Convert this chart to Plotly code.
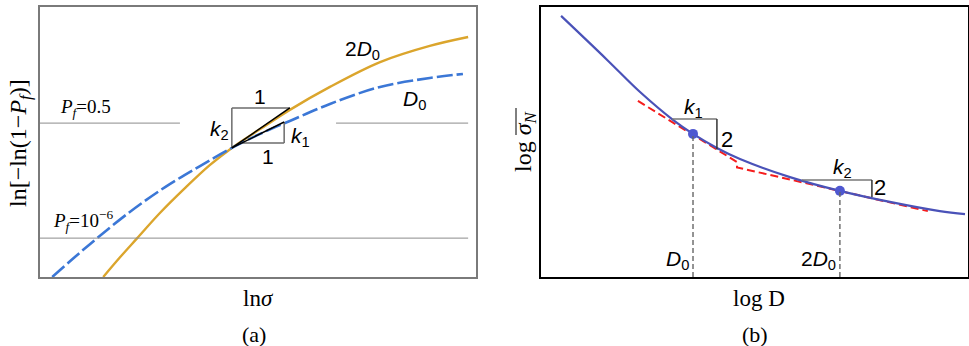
import plotly.graph_objects as go

W, H = 969, 346

# ---------------- panel (a): ln[-ln(1-Pf)] versus ln(sigma) ----------------
a_d0_x = [0.28, 0.80, 1.31, 2.06, 2.87, 3.67, 4.40, 5.05, 5.73, 6.65, 7.80, 8.94, 9.70]
a_d0_y = [0.00, 0.74, 1.44, 2.41, 3.33, 4.11, 4.78, 5.30, 5.78, 6.41, 7.04, 7.37, 7.52]
a_2d0_x = [1.45, 1.84, 2.23, 2.75, 3.33, 3.90, 4.40, 5.05, 5.73, 6.65, 7.80, 8.94, 9.82]
a_2d0_y = [0.00, 0.74, 1.44, 2.37, 3.30, 4.15, 4.78, 5.48, 6.19, 7.04, 7.96, 8.56, 8.89]

pf_half_y = 5.70          # Pf = 0.5
pf_micro_y = 1.44         # Pf = 1e-6
pf_half_x = [[0.0, 3.21], [6.79, 9.82]]
pf_micro_x = [0.0, 9.82]

# common tangent point of both curves and the two slope triangles
tan_pt = (4.40, 4.78)
k2_corner = (4.40, 6.26)      # top-left corner of the k2 triangle
k2_end = (5.73, 6.26)         # end of the 2D0 tangent
k1_base_y = 4.96
k1_base_x0 = 4.625
k1_end = (5.60, 5.74)         # end of the D0 tangent

# ---------------- panel (b): log sigma_N versus log D ----------------
b_curve_x = [0.47, 1.55, 2.32, 3.09, 3.56, 4.12, 4.66, 5.83, 7.00, 8.17, 9.34, 9.93]
b_curve_y = [9.67, 8.04, 6.85, 5.82, 5.30, 4.78, 4.37, 3.70, 3.19, 2.78, 2.44, 2.33]
b_tangent_x = [2.27, 4.59, 4.59, 9.06]
b_tangent_y = [6.52, 4.26, 4.06, 2.44]
b_pts_x = [3.56, 7.00]        # D0, 2D0
b_pts_y = [5.30, 3.19]
b_pt_labels = ["<i>D</i><sub>0</sub>", "2<i>D</i><sub>0</sub>"]
b_tri1 = dict(x0=3.07, x1=4.12, y_top=5.85, y_bot=4.72)
b_tri2 = dict(x0=6.11, x1=7.75, y_top=3.59, y_bot=2.96)

BLUE_A = "#3b77d6"
GOLD_A = "#dba52c"
BLUE_B = "#4a52b8"
RED_B = "#f51d1d"
GREY_FRAME = "#7a7a7a"
GREY_LINE = "#8c8c8c"
GREY_BOX = "#6b6b6b"

SERIF = "Liberation Serif"
SANS = "Liberation Sans"


def px(x):
    return x / W


def py(y):
    return 1 - y / H


fig = go.Figure()

# panel (a) curves
fig.add_trace(go.Scatter(x=a_2d0_x, y=a_2d0_y, mode="lines", line_shape="spline",
                         line=dict(color=GOLD_A, width=2.4), xaxis="x", yaxis="y"))
fig.add_trace(go.Scatter(x=a_d0_x, y=a_d0_y, mode="lines", line_shape="spline",
                         line=dict(color=BLUE_A, width=2.6, dash="16px,4px"),
                         xaxis="x", yaxis="y"))

# panel (b) curves
fig.add_trace(go.Scatter(x=b_tangent_x, y=b_tangent_y, mode="lines",
                         line=dict(color=RED_B, width=2, dash="8px,4px"),
                         xaxis="x2", yaxis="y2"))
fig.add_trace(go.Scatter(x=b_curve_x, y=b_curve_y, mode="lines", line_shape="spline",
                         line=dict(color=BLUE_B, width=2.2), xaxis="x2", yaxis="y2"))
fig.add_trace(go.Scatter(x=b_pts_x, y=b_pts_y, mode="markers",
                         marker=dict(color="#4f58d0", size=10), xaxis="x2", yaxis="y2"))

shapes = []


def seg(xref, yref, x0, y0, x1, y1, color, width, dash=None):
    d = dict(type="line", xref=xref, yref=yref, x0=x0, y0=y0, x1=x1, y1=y1,
             line=dict(color=color, width=width), layer="above")
    if dash:
        d["line"]["dash"] = dash
    shapes.append(d)


# Pf reference lines
for xs in pf_half_x:
    seg("x", "y", xs[0], pf_half_y, xs[1], pf_half_y, GREY_LINE, 1)
seg("x", "y", pf_micro_x[0], pf_micro_y, pf_micro_x[1], pf_micro_y, GREY_LINE, 1)

# k2 triangle (2D0)
seg("x", "y", tan_pt[0], tan_pt[1], k2_corner[0], k2_corner[1], GREY_BOX, 1.5)
seg("x", "y", k2_corner[0], k2_corner[1], k2_end[0], k2_end[1], GREY_BOX, 1.5)
seg("x", "y", tan_pt[0], tan_pt[1], k2_end[0], k2_end[1], "black", 1.5)
# k1 triangle (D0)
seg("x", "y", k1_base_x0, k1_base_y, k1_end[0], k1_base_y, GREY_BOX, 1.5)
seg("x", "y", k1_end[0], k1_base_y, k1_end[0], k1_end[1], GREY_BOX, 1.5)
seg("x", "y", tan_pt[0], tan_pt[1], k1_end[0], k1_end[1], "black", 1.5)

# panel (b) slope triangles
for t in (b_tri1, b_tri2):
    seg("x2", "y2", t["x0"], t["y_top"], t["x1"], t["y_top"], "#777777", 1.5)
    seg("x2", "y2", t["x1"], t["y_top"], t["x1"], t["y_bot"], "#333333", 1.5)
# drop lines to the size axis
for xv, yv in zip(b_pts_x, b_pts_y):
    seg("x2", "y2", xv, 0, xv, yv, "#666666", 1.4, "5px,3px")

# overline of sigma_N in the rotated axis title
seg("paper", "paper", px(516), py(108), px(516), py(135), "black", 1)

ann = []


def label(text, x, y, xref="x", yref="y", size=21, family=SANS, xanchor="center",
          yanchor="middle", angle=0):
    ann.append(dict(text=text, x=x, y=y, xref=xref, yref=yref, showarrow=False,
                    font=dict(family=family, size=size, color="black"),
                    xanchor=xanchor, yanchor=yanchor, textangle=angle))


# panel (a) labels
label("1", 5.05, 6.68)
label("1", 5.23, 4.45)
label("<i>k</i><sub>2</sub>", 4.37, 5.44, xanchor="right")
label("<i>k</i><sub>1</sub>", 5.70, 5.18, xanchor="left")
label("2<i>D</i><sub>0</sub>", 7.39, 8.40)
label("<i>D</i><sub>0</sub>", 8.58, 6.55)
label("<i>P</i><sub><i>f</i></sub>=0.5", 0.42, 6.25, family=SERIF, size=19, xanchor="left")
label("<i>P</i><sub><i>f</i></sub>=10<sup>−6</sup>", 0.26, 2.08, family=SERIF, size=19,
      xanchor="left")

# panel (b) labels
label("<i>k</i><sub>1</sub>", 3.58, 6.25, xref="x2", yref="y2")
label("2", 4.17, 5.11, xref="x2", yref="y2", size=22, xanchor="left")
label("<i>k</i><sub>2</sub>", 7.05, 4.03, xref="x2", yref="y2")
label("2", 7.76, 3.30, xref="x2", yref="y2", size=22, xanchor="left")
for xv, t in zip(b_pts_x, b_pt_labels):
    label(t, xv - 0.05, 0.62, xref="x2", yref="y2", xanchor="right")

# axis titles and panel captions
label("ln[−ln(1−<i>P</i><sub><i>f</i></sub>)]", px(20), py(143), "paper", "paper",
      size=24, family=SERIF, angle=-90)
label("ln<i>σ</i>", px(258), py(298), "paper", "paper", size=23, family=SERIF)
label("(a)", px(254), py(334), "paper", "paper", size=22, family=SERIF)
label("log <i>σ</i><sub><i>N</i></sub>", px(525), py(142), "paper", "paper",
      size=24, family=SERIF, angle=-90)
label("log D", px(759), py(298), "paper", "paper", size=23, family=SERIF)
label("(b)", px(755), py(334), "paper", "paper", size=22, family=SERIF)

ydom = [py(277), py(7)]


def frame(domain, color, width):
    return dict(domain=domain, range=[0, 10], showline=True, mirror=True,
                linecolor=color, linewidth=width, showgrid=False, zeroline=False,
                showticklabels=False, ticks="", fixedrange=True)


fig.update_layout(
    width=W, height=H, margin=dict(l=0, r=0, t=0, b=0),
    paper_bgcolor="white", plot_bgcolor="white", showlegend=False,
    xaxis=frame([px(40), px(476)], GREY_FRAME, 1.6),
    yaxis=frame(ydom, GREY_FRAME, 1.6),
    xaxis2=frame([px(541), px(968)], "black", 1.6),
    yaxis2=dict(frame(ydom, "black", 1.6), anchor="x2"),
    shapes=shapes, annotations=ann,
)
fig.layout.xaxis2.anchor = "y2"

fig.write_html("out.html")
